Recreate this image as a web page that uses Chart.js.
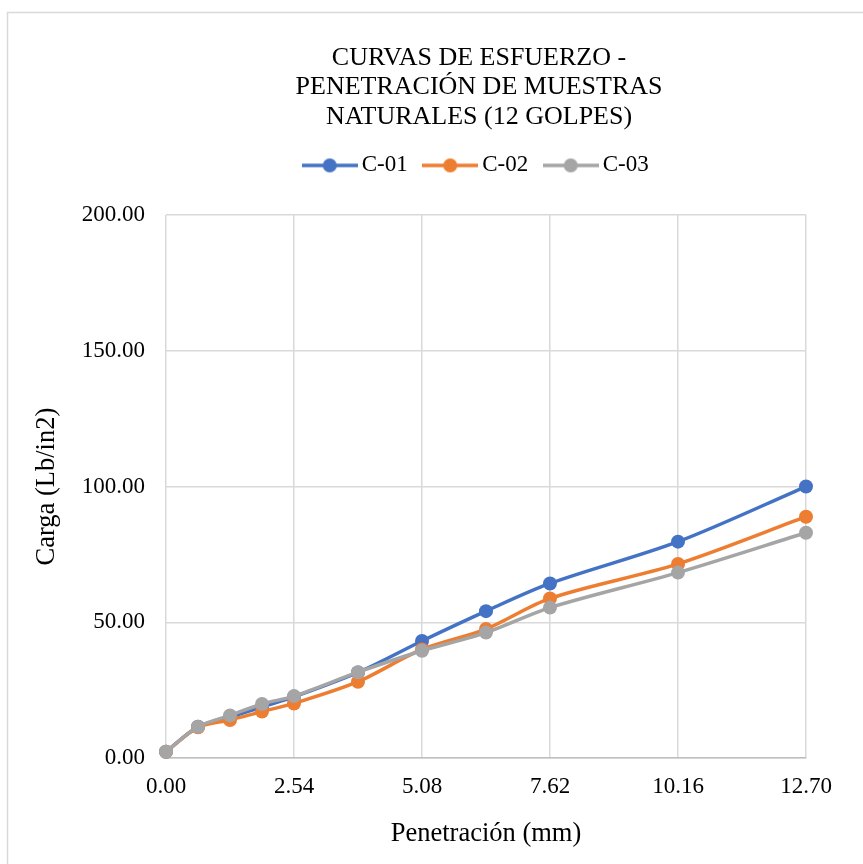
<!DOCTYPE html>
<html>
<head>
<meta charset="utf-8">
<title>Curvas de esfuerzo - penetración</title>
<script src="https://cdn.jsdelivr.net/npm/chart.js@4.4.0/dist/chart.umd.min.js"></script>
<style>
  html, body { margin: 0; padding: 0; background: #fff; overflow: hidden; }
  #grafico { display: block; }
</style>
</head>
<body>
<canvas id="grafico" width="958" height="864"></canvas>
<script>
// Penetración (mm) y carga (Lb/in2) de cada muestra
const penetracion = [0, 0.635, 1.27, 1.905, 2.54, 3.81, 5.08, 6.35, 7.62, 10.16, 12.70];
const c01 = [2.3, 11.5, 15.0, 18.8, 22.5, 31.5, 43.1, 54.1, 64.3, 79.7, 100.0];
const c02 = [2.3, 11.3, 14.0, 17.1, 20.1, 28.1, 40.0, 47.5, 58.8, 71.5, 88.9];
const c03 = [2.3, 11.5, 15.7, 19.9, 22.8, 31.6, 39.5, 46.2, 55.4, 68.3, 83.0];
const nombres = ['C-01', 'C-02', 'C-03'];
const ticksX = [0, 2.54, 5.08, 7.62, 10.16, 12.70];
const colores = ['#4472C4', '#ED7D31', '#A5A5A5'];

const fuente = "'Liberation Serif', 'Times New Roman', serif";
Chart.defaults.font.family = fuente;
Chart.defaults.color = '#000';

// icono de leyenda: línea con círculo, como en Excel
function iconoLeyenda(color) {
  const c = document.createElement('canvas');
  c.width = 56;
  c.height = 16;
  const ctx = c.getContext('2d');
  ctx.strokeStyle = color;
  ctx.lineWidth = 3.5;
  ctx.beginPath();
  ctx.moveTo(0, 8);
  ctx.lineTo(56, 8);
  ctx.stroke();
  ctx.fillStyle = color;
  ctx.beginPath();
  ctx.arc(28, 8, 7, 0, Math.PI * 2);
  ctx.fill();
  return c;
}

const marco = {
  id: 'marco',
  beforeDraw(chart) {
    const ctx = chart.ctx;
    ctx.save();
    ctx.fillStyle = '#fff';
    ctx.fillRect(0, 0, chart.width, chart.height);
    ctx.strokeStyle = '#d9d9d9';
    ctx.lineWidth = 1.5;
    ctx.strokeRect(7.5, 12.5, 940, 900);
    ctx.restore();
  }
};

const series = [c01, c02, c03].map((valores, i) => ({
  label: nombres[i],
  data: valores.map((v, j) => ({ x: penetracion[j], y: v })),
  borderColor: colores[i],
  backgroundColor: colores[i],
  borderWidth: 3.5,
  pointRadius: 7,
  pointHoverRadius: 7,
  pointBorderWidth: 0,
  tension: 0.3,
  clip: false,
  order: 3 - i
}));

new Chart(document.getElementById('grafico'), {
  type: 'line',
  data: { datasets: series },
  plugins: [marco],
  options: {
    responsive: false,
    animation: false,
    layout: { padding: 0 },
    plugins: {
      title: {
        display: true,
        text: ['CURVAS DE ESFUERZO -', 'PENETRACIÓN DE MUESTRAS', 'NATURALES (12 GOLPES)'],
        font: { size: 26, weight: 'normal', lineHeight: 1.14 },
        color: '#000',
        padding: { top: 43, bottom: 0 }
      },
      subtitle: {
        display: true,
        text: '',
        weight: 500,
        font: { size: 1 },
        padding: { top: 27, bottom: 0 }
      },
      legend: {
        position: 'top',
        labels: {
          usePointStyle: true,
          pointStyleWidth: 41,
          padding: 22,
          font: { size: 23 },
          color: '#000',
          sort: (a, b) => a.datasetIndex - b.datasetIndex,
          generateLabels(chart) {
            const items = Chart.defaults.plugins.legend.labels.generateLabels(chart);
            items.forEach(it => { it.pointStyle = iconoLeyenda(colores[it.datasetIndex]); });
            return items;
          }
        }
      },
      tooltip: { enabled: false }
    },
    scales: {
      x: {
        type: 'linear',
        min: 0,
        max: 12.7,
        afterBuildTicks: s => { s.ticks = ticksX.map(v => ({ value: v })); },
        afterFit: s => { s.height = 106; },
        ticks: {
          padding: 15,
          font: { size: 23 },
          callback: v => v.toFixed(2)
        },
        grid: { color: '#d9d9d9', lineWidth: 1.5, drawTicks: false },
        border: { color: '#bfbfbf', width: 1.5 },
        title: {
          display: true,
          text: 'Penetración (mm)',
          font: { size: 26.5 },
          padding: { top: 0, bottom: 14 }
        }
      },
      y: {
        min: 0,
        max: 200,
        afterFit: s => { s.width = 166; },
        ticks: {
          stepSize: 50,
          padding: 21,
          font: { size: 23 },
          callback: v => v.toFixed(2)
        },
        grid: { color: '#d9d9d9', lineWidth: 1.5, drawTicks: false },
        border: { display: false },
        title: {
          display: true,
          text: 'Carga (Lb/in2)',
          font: { size: 26.5 },
          padding: { top: 31, bottom: 0 }
        }
      },
      derecha: {
        position: 'right',
        display: true,
        afterFit: s => { s.width = 152; },
        ticks: { display: false },
        grid: { display: false },
        border: { display: false }
      }
    }
  }
});
</script>
</body>
</html>
